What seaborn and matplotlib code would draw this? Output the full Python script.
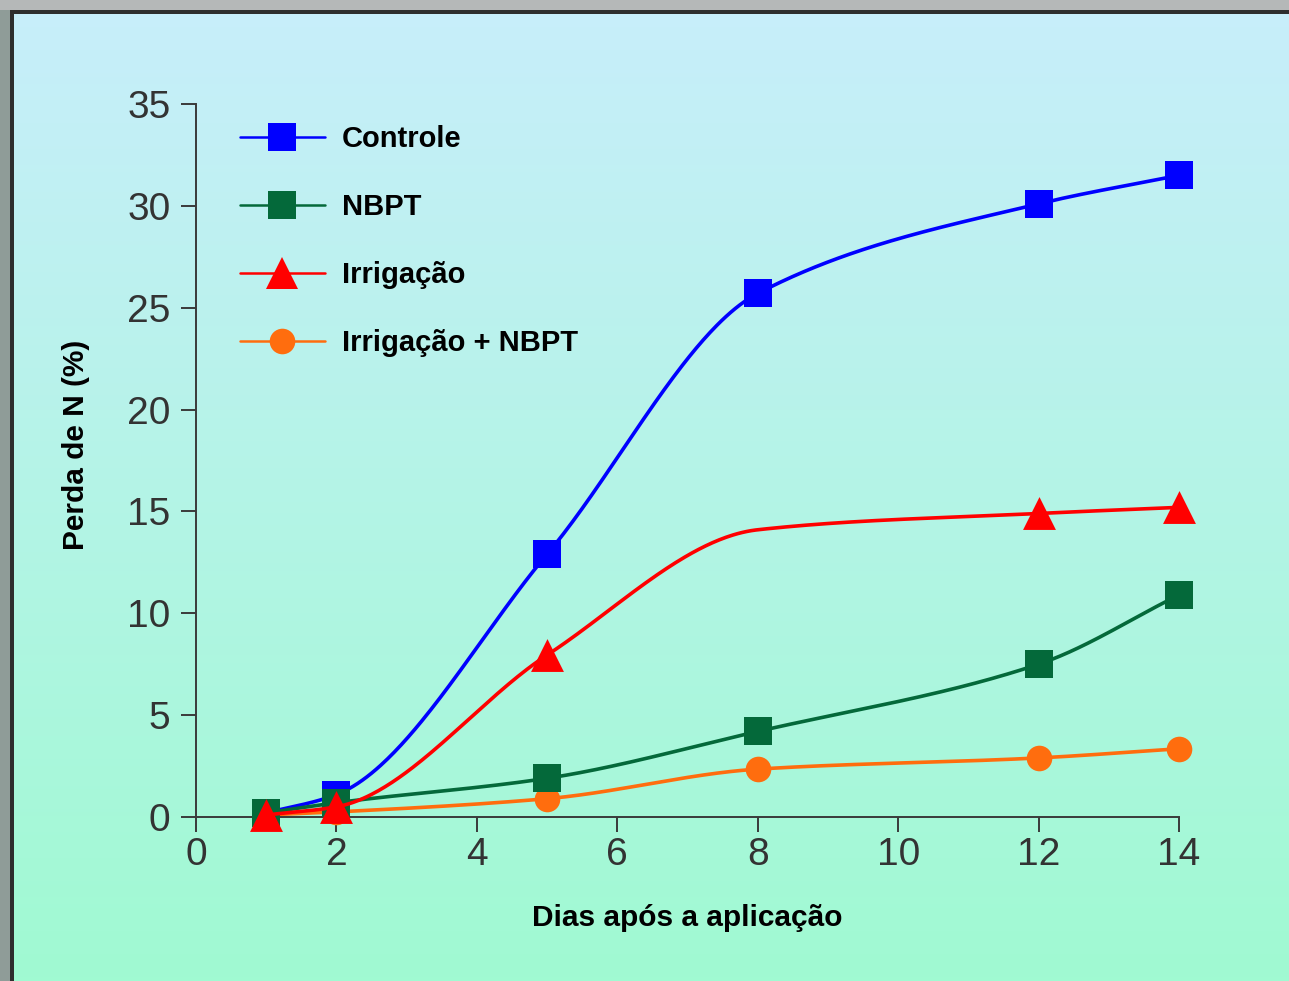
import numpy as np
import pandas as pd
import seaborn as sns
import matplotlib.pyplot as plt
from matplotlib.lines import Line2D
from matplotlib.patches import Rectangle

# Data
dias = [1, 2, 5, 8, 12, 14]
controle = [0.2, 1.1, 12.9, 25.7, 30.1, 31.5]
nbpt = [0.2, 0.7, 1.9, 4.2, 7.5, 10.9]
irrigacao = [0.1, 0.5, 7.95, 14.1, 14.9, 15.2]
irrigacao_nbpt = [0.1, 0.25, 0.9, 2.35, 2.9, 3.35]

series = ["Controle", "NBPT", "Irrigação", "Irrigação + NBPT"]
valores = [controle, nbpt, irrigacao, irrigacao_nbpt]
# the Irrigação marker at day 8 is not drawn in the original
sem_marcador = [("Irrigação", 8)]

cores = {"Controle": "#0000ff", "NBPT": "#04693a",
         "Irrigação": "#ff0000", "Irrigação + NBPT": "#ff6d0e"}
marcadores = {"Controle": "s", "NBPT": "s", "Irrigação": "^", "Irrigação + NBPT": "o"}
tamanhos = {"Controle": 380, "NBPT": 380, "Irrigação": 560, "Irrigação + NBPT": 340}
ordem = ["Irrigação + NBPT", "Controle", "NBPT", "Irrigação"]  # draw order

df = pd.DataFrame([(s, d, v) for s, vals in zip(series, valores)
                   for d, v in zip(dias, vals)], columns=["serie", "dia", "perda"])


def pchip(x, y, xs):
    x = np.asarray(x, float)
    y = np.asarray(y, float)
    h = np.diff(x)
    d = np.diff(y) / h
    m = np.zeros_like(y)
    for k in range(1, len(x) - 1):
        if d[k - 1] * d[k] > 0:
            w1 = 2 * h[k] + h[k - 1]
            w2 = h[k] + 2 * h[k - 1]
            m[k] = (w1 + w2) / (w1 / d[k - 1] + w2 / d[k])
    m[0] = d[0]
    m[-1] = d[-1]
    idx = np.clip(np.searchsorted(x, xs) - 1, 0, len(x) - 2)
    t = (xs - x[idx]) / h[idx]
    h00 = 2 * t**3 - 3 * t**2 + 1
    h10 = t**3 - 2 * t**2 + t
    h01 = -2 * t**3 + 3 * t**2
    h11 = t**3 - t**2
    return (h00 * y[idx] + h10 * h[idx] * m[idx]
            + h01 * y[idx + 1] + h11 * h[idx] * m[idx + 1])


sns.set_style("white")
plt.rcParams["font.family"] = ["Liberation Sans", "DejaVu Sans"]
plt.rcParams["text.color"] = "black"
plt.rcParams["axes.labelcolor"] = "black"

fig = plt.figure(figsize=(12.89, 9.81), dpi=100)

# gradient background + frame
bg = fig.add_axes([0, 0, 1, 1], zorder=-10)
grad = np.linspace(0, 1, 256)[:, None]
c_top = np.array([0xc8, 0xee, 0xfb]) / 255
c_bot = np.array([0xa0, 0xfa, 0xd2]) / 255
img = c_top[None, None, :] * (1 - grad[..., None]) + c_bot[None, None, :] * grad[..., None]
bg.imshow(img, aspect="auto", extent=[0, 1, 0, 1])
bg.add_patch(Rectangle((0, 0), 10 / 1289, 1, color="#8f9c98", lw=0))
bg.add_patch(Rectangle((0, 1 - 10 / 981), 1, 10 / 981, color="#b5b8b8", lw=0))
bg.add_patch(Rectangle((10 / 1289, 0), 4 / 1289, 1 - 10 / 981, color="#2e2e2e", lw=0))
bg.add_patch(Rectangle((10 / 1289, 1 - 14 / 981), 1, 4 / 981, color="#2e2e2e", lw=0))
bg.set_xlim(0, 1)
bg.set_ylim(0, 1)
bg.axis("off")

ax = fig.add_axes([196 / 1289, 1 - 817 / 981, 983 / 1289, 713 / 981])
ax.patch.set_alpha(0)

xs = np.linspace(1, 14, 400)
for i, s in enumerate(ordem):
    sub = df[df.serie == s]
    ax.plot(xs, pchip(sub.dia, sub.perda, xs), color=cores[s], lw=2.6,
            zorder=2 + i, solid_capstyle="round")
    mk = sub[~sub.dia.isin([d for n, d in sem_marcador if n == s])]
    sns.scatterplot(data=mk, x="dia", y="perda", ax=ax, color=cores[s],
                    marker=marcadores[s], s=tamanhos[s], linewidth=0,
                    zorder=2 + i + 0.5, clip_on=False, legend=False)

ax.set_xlim(0, 14)
ax.set_ylim(0, 35)
ax.set_xticks(range(0, 15, 2))
ax.set_yticks(range(0, 36, 5))
for sp in ["top", "right"]:
    ax.spines[sp].set_visible(False)
for sp in ["left", "bottom"]:
    ax.spines[sp].set_color("#3a3a3a")
    ax.spines[sp].set_linewidth(1.4)
ax.tick_params(axis="both", direction="out", length=10.5, width=1.4,
               bottom=True, left=True,
               color="#3a3a3a", labelsize=28, labelcolor="#333333")
ax.tick_params(axis="x", pad=4)
ax.tick_params(axis="y", pad=8)

ax.set_xlabel("Dias após a aplicação", fontsize=21.5, fontweight="bold",
              labelpad=22)
ax.set_ylabel("Perda de N (%)", fontsize=21.5, fontweight="bold")
ax.yaxis.set_label_coords(-0.108, 0.522)

handles = [Line2D([], [], color=cores[s], lw=1.8, marker=marcadores[s],
                  markersize=(tamanhos[s] ** 0.5), markeredgewidth=0)
           for s in series]
leg = ax.legend(handles, series, loc="upper left", bbox_to_anchor=(0.018, 1.007),
                frameon=False, handlelength=2.9, labelspacing=1.37,
                handletextpad=0.6, prop={"size": 21, "weight": "bold"})

fig.savefig("out.png", dpi=100)
